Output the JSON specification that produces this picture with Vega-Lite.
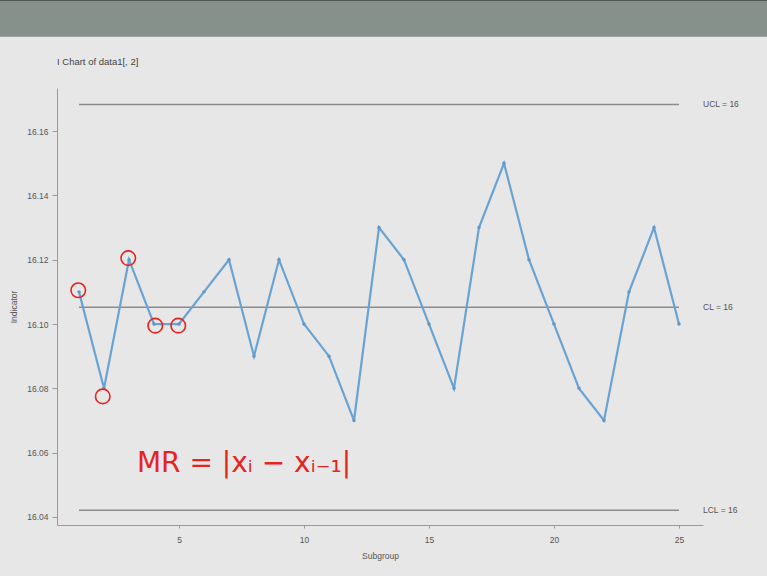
{
  "$schema": "https://vega.github.io/schema/vega-lite/v6.json",
  "autosize": {"type": "none"},
  "width": 646,
  "height": 437,
  "padding": {"left": 57, "top": 88, "right": 64, "bottom": 51},
  "background": "#e7e7e7",
  "config": {
    "view": {"stroke": null},
    "font": "Liberation Sans",
    "axis": {"grid": false, "domainColor": "#9a9a9a", "tickColor": "#9a9a9a", "labelColor": "#555555", "titleColor": "#555555", "labelFontSize": 8.5, "titleFontSize": 8.5, "titleFontWeight": "normal", "labelFont": "Liberation Sans", "titleFont": "Liberation Sans"}
  },
  "title": {"text": "I Chart of data1[, 2]", "anchor": "start", "frame": "group", "fontSize": 9.5, "fontWeight": "normal", "color": "#444444", "offset": -69, "font": "Liberation Sans"},
  "datasets": {
    "obs": [
      {"Subgroup": 1, "Indicator": 16.11}, {"Subgroup": 2, "Indicator": 16.08}, {"Subgroup": 3, "Indicator": 16.12},
      {"Subgroup": 4, "Indicator": 16.10}, {"Subgroup": 5, "Indicator": 16.10}, {"Subgroup": 6, "Indicator": 16.11},
      {"Subgroup": 7, "Indicator": 16.12}, {"Subgroup": 8, "Indicator": 16.09}, {"Subgroup": 9, "Indicator": 16.12},
      {"Subgroup": 10, "Indicator": 16.10}, {"Subgroup": 11, "Indicator": 16.09}, {"Subgroup": 12, "Indicator": 16.07},
      {"Subgroup": 13, "Indicator": 16.13}, {"Subgroup": 14, "Indicator": 16.12}, {"Subgroup": 15, "Indicator": 16.10},
      {"Subgroup": 16, "Indicator": 16.08}, {"Subgroup": 17, "Indicator": 16.13}, {"Subgroup": 18, "Indicator": 16.15},
      {"Subgroup": 19, "Indicator": 16.12}, {"Subgroup": 20, "Indicator": 16.10}, {"Subgroup": 21, "Indicator": 16.08},
      {"Subgroup": 22, "Indicator": 16.07}, {"Subgroup": 23, "Indicator": 16.11}, {"Subgroup": 24, "Indicator": 16.13},
      {"Subgroup": 25, "Indicator": 16.10}
    ],
    "limits": [
      {"name": "UCL", "value": 16.1683, "start": 1, "end": 25, "label": "UCL = 16"},
      {"name": "CL", "value": 16.1052, "start": 1, "end": 25, "label": "CL = 16"},
      {"name": "LCL", "value": 16.0421, "start": 1, "end": 25, "label": "LCL = 16"}
    ],
    "circles": [
      {"Subgroup": 0.97, "Indicator": 16.1105},
      {"Subgroup": 1.95, "Indicator": 16.0775},
      {"Subgroup": 2.97, "Indicator": 16.1205},
      {"Subgroup": 4.05, "Indicator": 16.0995},
      {"Subgroup": 4.97, "Indicator": 16.0995}
    ],
    "note": [
      {"Subgroup": 7.6, "Indicator": 16.0565, "text": "MR = |xᵢ − xᵢ₋₁|"}
    ],
    "band": [
      {"x1": -2.4, "x2": 28.7, "y1": 16.1893, "y2": 16.2015}
    ],
    "strip": [
      {"x1": -2.4, "x2": 28.7, "y1": 16.2006, "y2": 16.2015}
    ]
  },
  "layer": [
    {
      "data": {"name": "band"},
      "mark": {"type": "rect", "color": "#85918a", "clip": false},
      "encoding": {
        "x": {"field": "x1", "type": "quantitative", "scale": {"domain": [0.12, 25.96], "nice": false, "zero": false}},
        "x2": {"field": "x2"},
        "y": {"field": "y1", "type": "quantitative", "scale": {"domain": [16.0375, 16.1734], "nice": false, "zero": false}},
        "y2": {"field": "y2"}
      }
    },
    {
      "data": {"name": "strip"},
      "mark": {"type": "rect", "color": "#1c1c1c", "clip": false},
      "encoding": {
        "x": {"field": "x1", "type": "quantitative"},
        "x2": {"field": "x2"},
        "y": {"field": "y1", "type": "quantitative"},
        "y2": {"field": "y2"}
      }
    },
    {
      "data": {"name": "limits"},
      "mark": {"type": "rule", "color": "#8c8c8c", "strokeWidth": 1.5},
      "encoding": {
        "x": {"field": "start", "type": "quantitative"},
        "x2": {"field": "end"},
        "y": {"field": "value", "type": "quantitative"}
      }
    },
    {
      "data": {"name": "limits"},
      "mark": {"type": "text", "align": "left", "dx": 24, "fontSize": 8.5, "color": "#555555", "clip": false},
      "encoding": {
        "x": {"field": "end", "type": "quantitative"},
        "y": {"field": "value", "type": "quantitative"},
        "text": {"field": "label"}
      }
    },
    {
      "data": {"name": "obs"},
      "mark": {"type": "line", "color": "#6aa3d2", "strokeWidth": 2.2},
      "encoding": {
        "x": {"field": "Subgroup", "type": "quantitative", "axis": {"values": [5, 10, 15, 20, 25], "title": "Subgroup", "tickSize": 3, "labelPadding": 7, "titlePadding": 8}},
        "y": {"field": "Indicator", "type": "quantitative", "axis": {"values": [16.04, 16.06, 16.08, 16.1, 16.12, 16.14, 16.16], "format": ".2f", "title": "Indicator", "tickSize": 5, "labelPadding": 4, "titlePadding": 8}}
      }
    },
    {
      "data": {"name": "obs"},
      "mark": {"type": "point", "filled": true, "color": "#5e97c9", "size": 12, "opacity": 1},
      "encoding": {
        "x": {"field": "Subgroup", "type": "quantitative"},
        "y": {"field": "Indicator", "type": "quantitative"}
      }
    },
    {
      "data": {"name": "circles"},
      "mark": {"type": "point", "shape": "circle", "filled": false, "color": "#e5231f", "strokeWidth": 1.6, "size": 210, "opacity": 1},
      "encoding": {
        "x": {"field": "Subgroup", "type": "quantitative"},
        "y": {"field": "Indicator", "type": "quantitative"}
      }
    },
    {
      "data": {"name": "note"},
      "mark": {"type": "text", "fontSize": 28, "color": "#e5231f", "font": "DejaVu Sans"},
      "encoding": {
        "x": {"field": "Subgroup", "type": "quantitative"},
        "y": {"field": "Indicator", "type": "quantitative"},
        "text": {"field": "text"}
      }
    }
  ]
}
